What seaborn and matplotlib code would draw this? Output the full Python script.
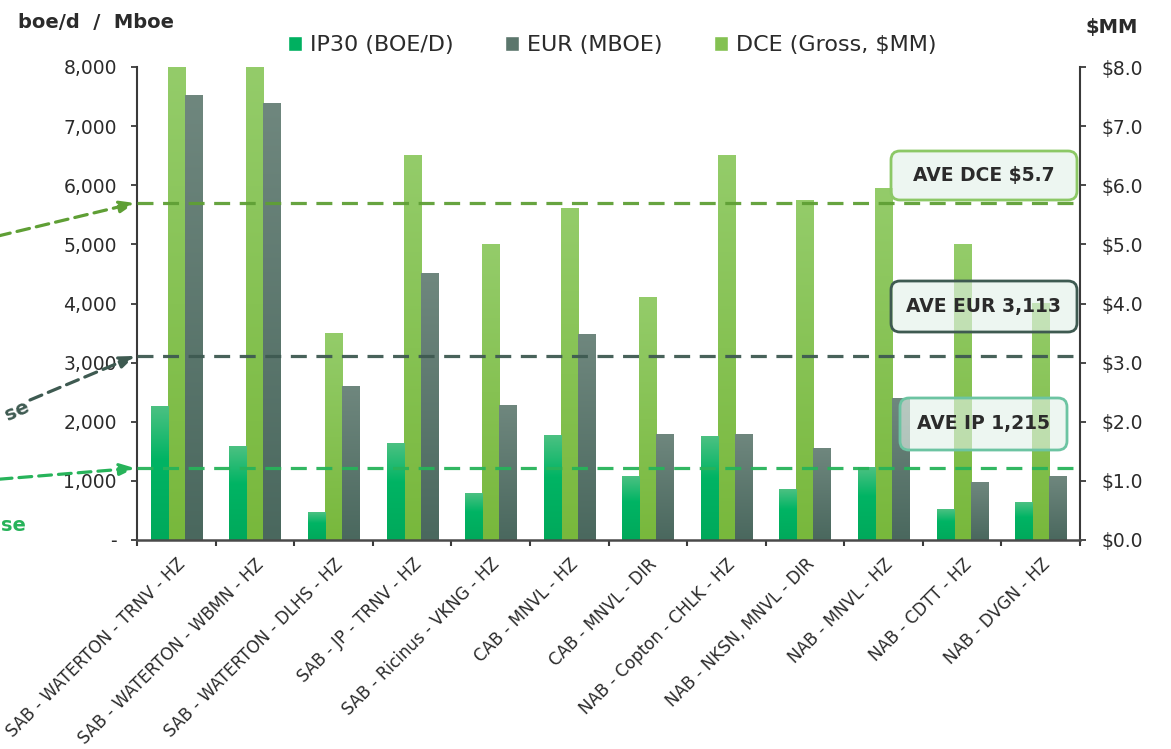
import numpy as np
import pandas as pd
import matplotlib
matplotlib.use("Agg")
import matplotlib.pyplot as plt
import seaborn as sns
from matplotlib.colors import LinearSegmentedColormap, to_hex
from matplotlib.patches import FancyBboxPatch, Patch
from matplotlib.ticker import FixedLocator, FuncFormatter
from matplotlib.transforms import blended_transform_factory

# ---- data -------------------------------------------------------------
wells = [
    "SAB - WATERTON - TRNV - HZ", "SAB - WATERTON - WBMN - HZ",
    "SAB - WATERTON - DLHS - HZ", "SAB - JP - TRNV - HZ",
    "SAB - Ricinus - VKNG - HZ", "CAB - MNVL - HZ", "CAB - MNVL - DIR",
    "NAB - Copton - CHLK - HZ", "NAB - NKSN, MNVL - DIR", "NAB - MNVL - HZ",
    "NAB - CDTT - HZ", "NAB - DVGN - HZ",
]
ip30 = [2250, 1575, 470, 1625, 780, 1760, 1080, 1750, 850, 1220, 510, 640]      # boe/d
eur = [7525, 7375, 2600, 4500, 2280, 3470, 1780, 1780, 1540, 2400, 980, 1080]   # Mboe
dce = [8.0, 8.0, 3.5, 6.5, 5.0, 5.6, 4.1, 6.5, 5.75, 5.95, 5.0, 4.0]           # $MM gross

ave_ip = 1215
ave_eur = 3113
ave_dce = 5.7

S_IP, S_DCE, S_EUR = "IP30 (BOE/D)", "DCE (Gross, $MM)", "EUR (MBOE)"
series_order = [S_IP, S_DCE, S_EUR]
left_ticks = [0, 1000, 2000, 3000, 4000, 5000, 6000, 7000, 8000]
right_ticks = [0, 1, 2, 3, 4, 5, 6, 7, 8]

# ---- styling ----------------------------------------------------------
sns.set_style("ticks")
plt.rcParams["font.family"] = ["DejaVu Sans"]

C_IP = "#00b060"
C_DCE = "#84c152"
C_EUR = "#5b766c"
L_IP = "#27b35a"
L_DCE = "#5f9f35"
L_EUR = "#3e5a51"
AXIS = "#3a3a3a"
TXT = "#2b2b2b"

grad_maps = {
    to_hex(C_IP): LinearSegmentedColormap.from_list(
        "ip", [(0, "#00a95b"), (0.6, "#00b464"), (1, "#4cc182")]),
    to_hex(C_DCE): LinearSegmentedColormap.from_list(
        "dce", [(0, "#78b83c"), (1, "#94cc6a")]),
    to_hex(C_EUR): LinearSegmentedColormap.from_list(
        "eur", [(0, "#4a685e"), (1, "#6f877e")]),
}
palette = {S_IP: C_IP, S_DCE: C_DCE, S_EUR: C_EUR}

W, H = 1171, 749
fig = plt.figure(figsize=(W / 100, H / 100), dpi=100)
ax = fig.add_axes([137 / W, (H - 540) / H, 943 / W, 473 / H])
ax2 = ax.twinx()
# volumes axis drawn on top of the cost axis
ax.set_zorder(ax2.get_zorder() + 1)
ax.patch.set_visible(False)

left_df = pd.DataFrame({
    "well": wells * 2,
    "series": [S_IP] * len(wells) + [S_EUR] * len(wells),
    "value": ip30 + eur,
})
right_df = pd.DataFrame({"well": wells, "series": [S_DCE] * len(wells), "value": dce})

common = dict(x="well", y="value", hue="series", order=wells, hue_order=series_order,
              palette=palette, width=0.65, dodge=True, saturation=1, legend=False,
              errorbar=None)
sns.barplot(data=left_df, ax=ax, **common)
sns.barplot(data=right_df, ax=ax2, **common)

# vertical gradient fill for each bar
grad = np.linspace(0, 1, 256).reshape(-1, 1)
for a in (ax, ax2):
    for p in list(a.patches):
        h = p.get_height()
        if not np.isfinite(h) or h == 0:
            continue
        cmap = grad_maps[to_hex(p.get_facecolor())]
        x0, y0, w = p.get_x(), p.get_y(), p.get_width()
        a.imshow(grad, extent=[x0, x0 + w, y0, y0 + h], origin="lower",
                 aspect="auto", cmap=cmap, zorder=p.get_zorder(),
                 interpolation="bilinear")
        p.set_visible(False)

ax.set_xlim(-0.5, len(wells) - 0.5)
ax2.set_xlim(-0.5, len(wells) - 0.5)
ax.set_ylim(0, 8000)
ax2.set_ylim(0, 8)
ax.set_xlabel("")
ax.set_ylabel("")
ax2.set_ylabel("")

# axes, ticks and labels
ax.yaxis.set_major_locator(FixedLocator(left_ticks))
ax.yaxis.set_major_formatter(FuncFormatter(lambda v, _: "-" if v == 0 else f"{v:,.0f}"))
ax2.yaxis.set_major_locator(FixedLocator(right_ticks))
ax2.yaxis.set_major_formatter(FuncFormatter(lambda v, _: f"${v:.1f}"))

ax.set_xticks(range(len(wells)))
ax.set_xticklabels(wells, rotation=45, ha="right", va="top", rotation_mode="anchor",
                   fontsize=12, color=TXT)
ax.set_xticks(np.arange(-0.5, len(wells), 1), minor=True)

ax.tick_params(axis="x", which="major", length=0, pad=11)
ax.tick_params(axis="x", which="minor", length=4.5, width=1.5, color=AXIS, direction="out")
ax.tick_params(axis="y", length=4.5, width=1.3, color=AXIS, labelsize=13.5,
               labelcolor=TXT, pad=10, direction="out")
ax2.tick_params(axis="y", length=4.5, width=1.3, color=AXIS, labelsize=13.5,
                labelcolor=TXT, pad=11, direction="out")

for s in ("top", "right"):
    ax.spines[s].set_visible(False)
for s in ("top", "left", "bottom"):
    ax2.spines[s].set_visible(False)
ax.spines["left"].set_color(AXIS)
ax.spines["left"].set_linewidth(1.5)
ax.spines["bottom"].set_color("#4a4a4a")
ax.spines["bottom"].set_linewidth(1.8)
ax2.spines["right"].set_color(AXIS)
ax2.spines["right"].set_linewidth(1.5)

# average lines
dash = (0, (5, 3))
ax.axhline(ave_eur, color=L_EUR, lw=2.3, ls=dash, zorder=4, alpha=0.95)
ax.axhline(ave_ip, color=L_IP, lw=2.3, ls=dash, zorder=4, alpha=0.95)
dce_tr = blended_transform_factory(ax.transAxes, ax2.transData)
ax.plot([0, 1], [ave_dce, ave_dce], transform=dce_tr, color=L_DCE, lw=2.3,
        ls=dash, zorder=4, alpha=0.95, clip_on=False)

# call-out arrows coming in from the left margin
def callout(yval, ycoord, start_px, color):
    ax.annotate("", xy=(-0.002, yval), xycoords=("axes fraction", ycoord),
                xytext=(start_px[0], H - start_px[1]), textcoords="figure pixels",
                annotation_clip=False,
                arrowprops=dict(arrowstyle="-|>,head_length=0.9,head_width=0.35",
                                color=color, lw=2.3, ls=(0, (4, 2.2)),
                                shrinkA=0, shrinkB=0, clip_on=False))

callout(ave_dce, ax2.transData, (-60, 250), L_DCE)
callout(ave_eur, "data", (30, 400), L_EUR)
callout(ave_ip, "data", (-60, 484), L_IP)

fig.text(28 / 100, (H - 406) / 100, "se", transform=fig.dpi_scale_trans,
         ha="right", va="center", rotation=24, rotation_mode="anchor",
         fontsize=14, fontweight="bold", color=L_EUR)
fig.text(1 / 100, (H - 531) / 100, "se", transform=fig.dpi_scale_trans,
         ha="left", va="baseline", fontsize=14, fontweight="bold", color=L_IP)

# average boxes
def avg_box(x0, y0, x1, y1, edge, label):
    box = FancyBboxPatch((x0 / 100, (H - y1) / 100), (x1 - x0) / 100, (y1 - y0) / 100,
                         boxstyle="round,pad=0,rounding_size=0.09",
                         transform=fig.dpi_scale_trans, fc=(0.89, 0.945, 0.915, 0.62),
                         ec=edge, lw=2.0, zorder=5)
    fig.add_artist(box)
    fig.text((x0 + x1) / 200, (H - (y0 + y1) / 2) / 100, label,
             transform=fig.dpi_scale_trans, ha="center", va="center",
             fontsize=13.5, fontweight="bold", color=TXT, zorder=6)

avg_box(891, 151, 1077, 200, "#8cc866", f"AVE DCE ${ave_dce:.1f}")
avg_box(891, 281, 1077, 332, "#3e5a51", f"AVE EUR {ave_eur:,}")
avg_box(900, 398, 1067, 450, "#6cc4a2", f"AVE IP {ave_ip:,}")

# axis titles
fig.text(18 / 100, (H - 28) / 100, "boe/d  /  Mboe", transform=fig.dpi_scale_trans,
         ha="left", va="baseline", fontsize=14, fontweight="bold", color=TXT)
fig.text(1112 / 100, (H - 33) / 100, "$MM", transform=fig.dpi_scale_trans,
         ha="center", va="baseline", fontsize=14, fontweight="bold", color=TXT)

# legend
handles = [Patch(facecolor=C_IP, label=S_IP), Patch(facecolor=C_EUR, label=S_EUR),
           Patch(facecolor=C_DCE, label=S_DCE)]
fig.legend(handles=handles, loc="center", bbox_to_anchor=(612 / W, 1 - 45 / H),
           ncol=3, frameon=False, fontsize=16, handlelength=0.65, handleheight=0.65,
           handletextpad=0.35, columnspacing=2.3, labelcolor=TXT)

fig.savefig("out.png", dpi=100)
